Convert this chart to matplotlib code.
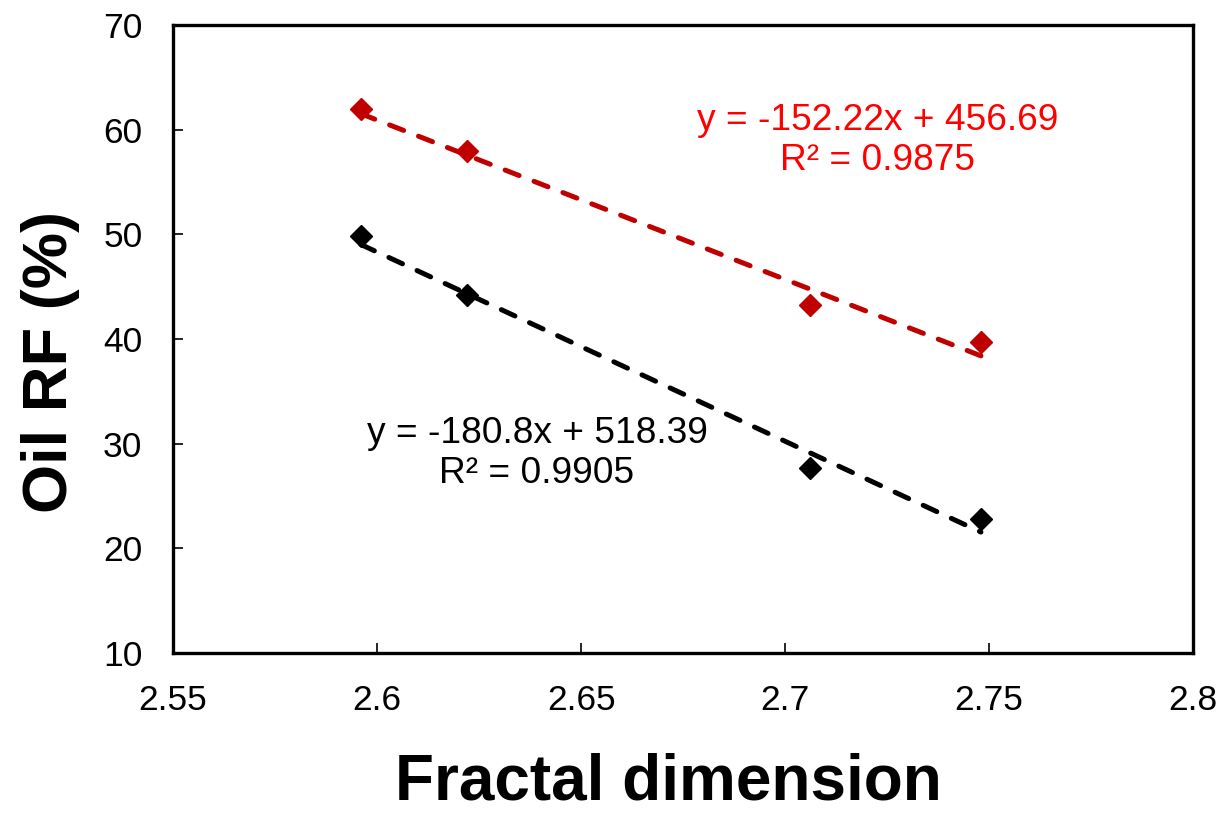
import numpy as np
import matplotlib.pyplot as plt

plt.rcParams['font.family'] = ['Liberation Sans', 'DejaVu Sans']

# fractal dimension vs oil recovery factor
fractal_dim = [2.596, 2.622, 2.706, 2.748]
rf_red = [62.0, 58.0, 43.2, 39.7]
rf_black = [49.8, 44.2, 27.7, 22.8]

# linear trendlines (slope, intercept) and R²
fit_red = (-152.22, 456.69, 0.9875)
fit_black = (-180.8, 518.39, 0.9905)

x_ticks = [2.55, 2.6, 2.65, 2.7, 2.75, 2.8]
x_tick_labels = ['2.55', '2.6', '2.65', '2.7', '2.75', '2.8']
y_ticks = [10, 20, 30, 40, 50, 60, 70]

RED = '#C00000'

fig = plt.figure(figsize=(12.3, 8.14), dpi=100)
ax = fig.add_axes([0.1407, 0.1978, 0.8293, 0.7715])

xs = np.array([fractal_dim[0], fractal_dim[-1]])
for vals, fit, col in [(rf_red, fit_red, RED), (rf_black, fit_black, 'black')]:
    ax.plot(fractal_dim, vals, linestyle='none', marker='D', markersize=11,
            color=col, zorder=3)
    ax.plot(xs, fit[0] * xs + fit[1], color=col, lw=3.6, dashes=(3, 3.2),
            dash_capstyle='round', zorder=2)

ax.text(2.7226, 59.0, 'y = %.2fx + %.2f\nR² = %.4f' % fit_red, color='#FF0000',
        fontsize=26.7, ha='center', va='center', multialignment='center',
        linespacing=1.18)
ax.text(2.6392, 29.1, 'y = %.1fx + %.2f\nR² = %.4f' % fit_black, color='black',
        fontsize=26.7, ha='center', va='center', multialignment='center',
        linespacing=1.18)

ax.set_xlim(2.55, 2.8)
ax.set_ylim(10, 70)
ax.set_xticks(x_ticks)
ax.set_xticklabels(x_tick_labels)
ax.set_yticks(y_ticks)
ax.tick_params(direction='in', length=7, width=1.2, labelsize=25.5)
ax.tick_params(axis='x', pad=22)
ax.tick_params(axis='y', pad=22)
for sp in ax.spines.values():
    sp.set_linewidth(2.4)

ax.set_xlabel('Fractal dimension', fontsize=46, fontweight='bold')
ax.set_ylabel('Oil RF (%)', fontsize=45.5, fontweight='bold')
ax.xaxis.set_label_coords(0.486, -0.158)
ax.yaxis.set_label_coords(-0.091, 0.463)

fig.savefig('out.png', dpi=100)
